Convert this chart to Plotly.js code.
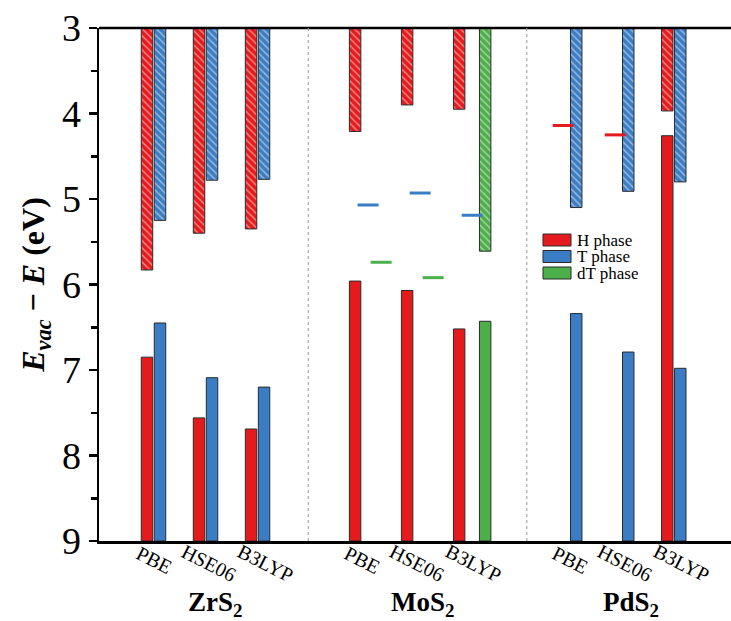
<!DOCTYPE html>
<html>
<head>
<meta charset="utf-8">
<script src="https://cdn.plot.ly/plotly-3.0.1.min.js"></script>
<style>html,body{margin:0;padding:0;background:#fff;}#chart{width:731px;height:621px;}</style>
</head>
<body>
<div id="chart"></div>
<script>
// ---- data ----
var materials = ['ZrS<sub>2</sub>', 'MoS<sub>2</sub>', 'PdS<sub>2</sub>'];
var methods = ['PBE', 'HSE06', 'B3LYP'];
// order: ZrS2(PBE,HSE06,B3LYP), MoS2(...), PdS2(...)
var H_cbm  = [5.83, 5.40, 5.35, 4.21, 3.90, 3.95, null, null, 3.97];
var H_vbm  = [6.85, 7.56, 7.69, 5.96, 6.07, 6.52, null, null, 4.26];
var H_ef   = [null, null, null, null, null, null, 4.14, 4.25, null];
var T_cbm  = [5.25, 4.78, 4.77, null, null, null, 5.10, 4.91, 4.80];
var T_vbm  = [6.45, 7.09, 7.20, null, null, null, 6.34, 6.79, 6.98];
var T_ef   = [null, null, null, 5.07, 4.93, 5.19, null, null, null];
var dT_cbm = [null, null, null, null, null, 5.61, null, null, null];
var dT_vbm = [null, null, null, null, null, 6.43, null, null, null];
var dT_ef  = [null, null, null, 5.74, 5.92, null, null, null, null];
var phaseNames = ['H phase', 'T phase', 'dT phase'];
var yTicks = [3, 4, 5, 6, 7, 8, 9];

// ---- styling ----
var phaseColors = ['#E41A1C', '#3B7DC4', '#4DAF4A'];
var SERIF = '"Liberation Serif", "Times New Roman", Times, serif';
var W = 731, H = 621, ML = 99, MR = 0, MT = 28, MB = 80;
function pX(px) { return (px - ML) / (W - ML - MR); }
function pY(py) { return (H - MB - py) / (H - MT - MB); }

var Y_TOP = yTicks[0], Y_BOT = yTicks[yTicks.length - 1];
var phases = [
  {cbm: H_cbm, vbm: H_vbm, ef: H_ef},
  {cbm: T_cbm, vbm: T_vbm, ef: T_ef},
  {cbm: dT_cbm, vbm: dT_vbm, ef: dT_ef}
];

function xpos(i, slot) { // i = 0..8, slot = phase index
  var g = Math.floor(i / 3), m = i % 3;
  return 16 * g + 4 * m + slot;
}

var traces = [];
phases.forEach(function (p, s) {
  var col = phaseColors[s];
  var cx = [], cy = [], cb = [], vx = [], vy = [], vb = [], ex = [], ey = [];
  for (var i = 0; i < 9; i++) {
    if (p.cbm[i] != null) { cx.push(xpos(i, s)); cy.push(p.cbm[i] - Y_TOP); cb.push(Y_TOP); }
    if (p.vbm[i] != null) { vx.push(xpos(i, s)); vy.push(Y_BOT - p.vbm[i]); vb.push(p.vbm[i]); }
    if (p.ef[i] != null) { ex.push(xpos(i, s)); ey.push(p.ef[i]); }
  }
  traces.push({
    type: 'bar', x: vx, y: vy, base: vb, width: 0.88, name: phaseNames[s],
    marker: {color: col, line: {color: '#2a2a2a', width: 1}},
    showlegend: false, hoverinfo: 'skip'
  });
  traces.push({
    type: 'bar', x: cx, y: cy, base: cb, width: 0.88, name: phaseNames[s] + ' CB',
    marker: {color: col, line: {color: '#2a2a2a', width: 1},
      pattern: {shape: '\\', fgcolor: 'rgba(255,255,255,0.9)', bgcolor: col, fillmode: 'overlay', size: 5, solidity: 0.3}},
    showlegend: false, hoverinfo: 'skip'
  });
  if (ex.length) {
    traces.push({
      type: 'scatter', mode: 'markers', x: ex, y: ey, showlegend: false, hoverinfo: 'skip',
      marker: {symbol: 'line-ew', size: 15, color: col, line: {color: col, width: 3}}
    });
  }
});

var annotations = [];
var labelOffset = [0.55, 0.75, 1.1];
var labelY = [pY(560), pY(563), pY(563)];
for (var i = 0; i < 9; i++) {
  var m = i % 3;
  annotations.push({
    text: methods[m], x: xpos(i, 0) + labelOffset[m], xref: 'x', y: labelY[m], yref: 'paper',
    xanchor: 'center', yanchor: 'middle', showarrow: false, textangle: 27,
    font: {family: SERIF, size: 20, color: '#000'}
  });
}
materials.forEach(function (mt, g) {
  annotations.push({
    text: '<b>' + mt + '</b>', x: 16 * g + 5.2, xref: 'x', y: pY(604), yref: 'paper',
    xanchor: 'center', yanchor: 'middle', showarrow: false,
    font: {family: SERIF, size: 27, color: '#000'}
  });
});

var shapes = [
  {type: 'line', xref: 'paper', yref: 'paper', x0: 0, x1: 1.01, y0: 1, y1: 1, line: {color: '#000', width: 2.5}},
  {type: 'line', xref: 'x', yref: 'paper', x0: 12.4, x1: 12.4, y0: 0, y1: 1, line: {color: '#999', width: 1, dash: 'dot'}},
  {type: 'line', xref: 'x', yref: 'paper', x0: 29.2, x1: 29.2, y0: 0, y1: 1, line: {color: '#999', width: 1, dash: 'dot'}}
];

// legend (drawn as swatches + text)
var legRows = [240, 256.5, 273];
phaseNames.forEach(function (nm, s) {
  shapes.push({type: 'rect', xref: 'paper', yref: 'paper',
    x0: pX(543), x1: pX(571), y0: pY(legRows[s] + 6), y1: pY(legRows[s] - 6),
    fillcolor: phaseColors[s], line: {color: '#2a2a2a', width: 1}});
  annotations.push({text: nm, xref: 'paper', yref: 'paper', x: pX(575), y: pY(legRows[s]),
    xanchor: 'left', yanchor: 'middle', showarrow: false,
    font: {family: SERIF, size: 17, color: '#000'}});
});

var layout = {
  width: W, height: H,
  margin: {l: ML, r: MR, t: MT, b: MB},
  paper_bgcolor: '#fff', plot_bgcolor: '#fff',
  barmode: 'overlay',
  showlegend: false,
  font: {family: SERIF, color: '#000'},
  xaxis: {
    range: [-3.69, 44.9], showgrid: false, zeroline: false,
    showline: true, linecolor: '#000', linewidth: 2.5,
    showticklabels: false, ticks: ''
  },
  yaxis: {
    range: [Y_BOT, Y_TOP], showgrid: false, zeroline: false,
    showline: true, linecolor: '#000', linewidth: 2.5,
    tickmode: 'array', tickvals: yTicks,
    ticks: 'outside', ticklen: 8, tickwidth: 2.5, tickcolor: '#000',
    minor: {tickmode: 'array', tickvals: [3.5, 4.5, 5.5, 6.5, 7.5, 8.5], ticks: 'outside', ticklen: 6, tickwidth: 2.5, tickcolor: '#000'},
    tickfont: {family: SERIF, size: 38, color: '#000'},
    title: {
      text: '<b><i>E<sub>vac</sub></i> − <i>E</i> (eV)</b>', standoff: 8,
      font: {family: SERIF, size: 32, color: '#000'}
    }
  },
  annotations: annotations,
  shapes: shapes
};

Plotly.newPlot('chart', traces, layout, {displayModeBar: false, staticPlot: true});
</script>
</body>
</html>
